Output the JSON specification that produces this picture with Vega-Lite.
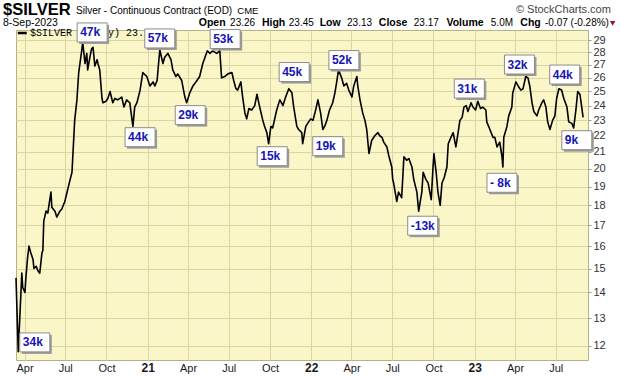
{
  "$schema": "https://vega.github.io/schema/vega-lite/v6.json",
  "autosize": "none",
  "padding": {"left": 16, "top": 30, "right": 32, "bottom": 16},
  "width": 572,
  "height": 330,
  "background": "white",
  "view": {"fill": "#FAF6C8", "stroke": "#B4B08A", "strokeWidth": 1},
  "datasets": {
    "prices": [
      {"date":"2020-03-13","price":14.6},{"date":"2020-03-18","price":11.8},{"date":"2020-03-26","price":14.8},{"date":"2020-03-28","price":14.2},
      {"date":"2020-04-02","price":14.0},{"date":"2020-04-04","price":14.6},{"date":"2020-04-08","price":15.5},{"date":"2020-04-11","price":16.0},
      {"date":"2020-04-15","price":15.7},{"date":"2020-04-20","price":15.4},{"date":"2020-04-22","price":15.0},{"date":"2020-04-27","price":15.1},
      {"date":"2020-05-01","price":14.9},{"date":"2020-05-05","price":14.8},{"date":"2020-05-10","price":15.7},{"date":"2020-05-12","price":15.8},
      {"date":"2020-05-14","price":17.2},{"date":"2020-05-19","price":17.7},{"date":"2020-05-23","price":17.6},{"date":"2020-05-30","price":18.7},
      {"date":"2020-06-01","price":17.9},{"date":"2020-06-08","price":17.7},{"date":"2020-06-12","price":17.4},{"date":"2020-06-19","price":17.7},
      {"date":"2020-06-23","price":17.8},{"date":"2020-06-30","price":18.2},{"date":"2020-07-04","price":18.6},{"date":"2020-07-11","price":19.3},
      {"date":"2020-07-16","price":19.8},{"date":"2020-07-22","price":23.0},{"date":"2020-07-27","price":24.4},{"date":"2020-07-31","price":26.4},
      {"date":"2020-08-07","price":28.2},{"date":"2020-08-09","price":28.8},{"date":"2020-08-14","price":27.1},{"date":"2020-08-18","price":27.9},
      {"date":"2020-08-20","price":26.6},{"date":"2020-08-25","price":27.6},{"date":"2020-08-29","price":28.3},{"date":"2020-09-01","price":28.4},
      {"date":"2020-09-05","price":26.9},{"date":"2020-09-10","price":27.4},{"date":"2020-09-12","price":27.1},{"date":"2020-09-16","price":26.6},
      {"date":"2020-09-21","price":24.5},{"date":"2020-09-23","price":24.2},{"date":"2020-09-30","price":24.3},{"date":"2020-10-04","price":24.5},
      {"date":"2020-10-09","price":25.0},{"date":"2020-10-15","price":24.2},{"date":"2020-10-20","price":24.5},{"date":"2020-10-26","price":24.4},
      {"date":"2020-11-04","price":24.6},{"date":"2020-11-09","price":23.9},{"date":"2020-11-15","price":24.4},{"date":"2020-11-22","price":24.2},
      {"date":"2020-11-29","price":22.6},{"date":"2020-12-03","price":23.9},{"date":"2020-12-08","price":24.2},{"date":"2020-12-15","price":25.1},
      {"date":"2020-12-21","price":26.4},{"date":"2020-12-30","price":26.1},{"date":"2021-01-06","price":25.4},{"date":"2021-01-13","price":25.7},
      {"date":"2021-01-17","price":25.4},{"date":"2021-01-22","price":25.8},{"date":"2021-01-28","price":28.2},{"date":"2021-02-04","price":27.1},
      {"date":"2021-02-08","price":27.6},{"date":"2021-02-15","price":27.9},{"date":"2021-02-22","price":27.4},{"date":"2021-02-26","price":26.6},
      {"date":"2021-03-05","price":26.1},{"date":"2021-03-09","price":26.3},{"date":"2021-03-18","price":25.8},{"date":"2021-03-25","price":24.6},
      {"date":"2021-03-29","price":24.2},{"date":"2021-04-05","price":24.9},{"date":"2021-04-12","price":25.4},{"date":"2021-04-21","price":25.8},
      {"date":"2021-04-27","price":26.1},{"date":"2021-05-04","price":27.1},{"date":"2021-05-14","price":28.1},{"date":"2021-05-20","price":27.9},
      {"date":"2021-05-26","price":28.1},{"date":"2021-06-04","price":27.9},{"date":"2021-06-11","price":28.1},{"date":"2021-06-15","price":26.0},
      {"date":"2021-06-22","price":26.1},{"date":"2021-06-29","price":26.3},{"date":"2021-07-08","price":26.4},{"date":"2021-07-12","price":25.8},
      {"date":"2021-07-17","price":25.2},{"date":"2021-07-21","price":25.1},{"date":"2021-07-28","price":25.7},{"date":"2021-08-01","price":24.6},
      {"date":"2021-08-06","price":23.5},{"date":"2021-08-10","price":23.1},{"date":"2021-08-15","price":23.8},{"date":"2021-08-21","price":23.7},
      {"date":"2021-08-28","price":24.0},{"date":"2021-09-02","price":24.8},{"date":"2021-09-08","price":23.9},{"date":"2021-09-15","price":23.0},
      {"date":"2021-09-19","price":22.6},{"date":"2021-09-24","price":22.2},{"date":"2021-09-28","price":21.5},{"date":"2021-10-03","price":22.6},
      {"date":"2021-10-07","price":22.5},{"date":"2021-10-16","price":23.7},{"date":"2021-10-23","price":24.4},{"date":"2021-10-30","price":24.0},
      {"date":"2021-11-05","price":24.6},{"date":"2021-11-12","price":25.2},{"date":"2021-11-19","price":24.9},{"date":"2021-11-23","price":23.9},
      {"date":"2021-11-30","price":22.6},{"date":"2021-12-04","price":22.4},{"date":"2021-12-11","price":22.2},{"date":"2021-12-13","price":21.5},
      {"date":"2021-12-20","price":22.6},{"date":"2021-12-24","price":22.8},{"date":"2021-12-31","price":23.1},{"date":"2022-01-05","price":23.0},
      {"date":"2022-01-11","price":23.7},{"date":"2022-01-16","price":24.4},{"date":"2022-01-22","price":23.5},{"date":"2022-01-27","price":22.4},
      {"date":"2022-01-31","price":22.6},{"date":"2022-02-05","price":23.0},{"date":"2022-02-11","price":23.7},{"date":"2022-02-18","price":24.2},
      {"date":"2022-02-23","price":24.9},{"date":"2022-02-27","price":25.7},{"date":"2022-03-03","price":26.6},{"date":"2022-03-10","price":26.0},
      {"date":"2022-03-15","price":25.4},{"date":"2022-03-21","price":25.6},{"date":"2022-03-26","price":25.1},{"date":"2022-04-02","price":24.6},
      {"date":"2022-04-06","price":25.4},{"date":"2022-04-13","price":26.1},{"date":"2022-04-15","price":25.4},{"date":"2022-04-20","price":24.4},
      {"date":"2022-04-26","price":23.5},{"date":"2022-05-01","price":23.0},{"date":"2022-05-05","price":22.4},{"date":"2022-05-10","price":20.9},
      {"date":"2022-05-16","price":21.7},{"date":"2022-05-23","price":22.0},{"date":"2022-05-30","price":22.2},{"date":"2022-06-03","price":22.0},
      {"date":"2022-06-08","price":21.9},{"date":"2022-06-12","price":21.6},{"date":"2022-06-19","price":21.3},{"date":"2022-06-23","price":20.8},
      {"date":"2022-06-30","price":20.1},{"date":"2022-07-02","price":19.4},{"date":"2022-07-04","price":19.2},{"date":"2022-07-11","price":18.2},
      {"date":"2022-07-15","price":18.7},{"date":"2022-07-22","price":18.4},{"date":"2022-07-27","price":20.7},{"date":"2022-08-02","price":20.5},
      {"date":"2022-08-07","price":20.6},{"date":"2022-08-14","price":20.1},{"date":"2022-08-18","price":19.4},{"date":"2022-08-25","price":18.7},
      {"date":"2022-08-29","price":17.7},{"date":"2022-09-05","price":18.7},{"date":"2022-09-08","price":19.8},{"date":"2022-09-14","price":19.4},
      {"date":"2022-09-19","price":19.2},{"date":"2022-09-26","price":18.3},{"date":"2022-09-30","price":20.1},{"date":"2022-10-02","price":20.9},
      {"date":"2022-10-07","price":19.8},{"date":"2022-10-11","price":18.7},{"date":"2022-10-16","price":18.0},{"date":"2022-10-20","price":19.2},
      {"date":"2022-10-25","price":19.5},{"date":"2022-10-31","price":20.1},{"date":"2022-11-03","price":21.5},{"date":"2022-11-09","price":21.9},
      {"date":"2022-11-14","price":22.2},{"date":"2022-11-20","price":21.3},{"date":"2022-11-25","price":22.2},{"date":"2022-11-29","price":23.0},
      {"date":"2022-12-04","price":23.2},{"date":"2022-12-08","price":23.9},{"date":"2022-12-13","price":24.0},{"date":"2022-12-17","price":23.6},
      {"date":"2022-12-24","price":24.2},{"date":"2022-12-28","price":23.9},{"date":"2023-01-03","price":23.7},{"date":"2023-01-08","price":24.3},
      {"date":"2023-01-14","price":23.8},{"date":"2023-01-19","price":23.9},{"date":"2023-01-26","price":23.7},{"date":"2023-01-28","price":22.9},
      {"date":"2023-02-04","price":22.4},{"date":"2023-02-11","price":21.9},{"date":"2023-02-15","price":21.9},{"date":"2023-02-20","price":21.3},
      {"date":"2023-02-26","price":21.6},{"date":"2023-03-03","price":20.7},{"date":"2023-03-05","price":20.1},{"date":"2023-03-07","price":21.9},
      {"date":"2023-03-14","price":22.6},{"date":"2023-03-18","price":23.3},{"date":"2023-03-25","price":23.9},{"date":"2023-03-27","price":24.9},
      {"date":"2023-04-03","price":25.7},{"date":"2023-04-08","price":25.4},{"date":"2023-04-14","price":25.1},{"date":"2023-04-19","price":25.2},
      {"date":"2023-04-25","price":26.1},{"date":"2023-04-30","price":26.0},{"date":"2023-05-04","price":25.4},{"date":"2023-05-09","price":24.2},
      {"date":"2023-05-13","price":23.6},{"date":"2023-05-20","price":23.3},{"date":"2023-05-24","price":23.7},{"date":"2023-05-31","price":24.2},
      {"date":"2023-06-04","price":24.4},{"date":"2023-06-09","price":23.9},{"date":"2023-06-13","price":22.9},{"date":"2023-06-18","price":22.4},
      {"date":"2023-06-24","price":23.0},{"date":"2023-06-29","price":23.3},{"date":"2023-07-03","price":24.5},{"date":"2023-07-08","price":25.2},
      {"date":"2023-07-14","price":25.1},{"date":"2023-07-19","price":24.5},{"date":"2023-07-26","price":23.9},{"date":"2023-07-30","price":22.9},
      {"date":"2023-08-06","price":22.8},{"date":"2023-08-10","price":22.5},{"date":"2023-08-15","price":23.7},{"date":"2023-08-19","price":25.0},
      {"date":"2023-08-24","price":24.8},{"date":"2023-08-28","price":23.9},{"date":"2023-08-31","price":23.2}
    ],
    "notes": [
      {"date":"2020-04-24","price":12.12,"label":"34k"},
      {"date":"2020-08-30","price":29.64,"label":"47k"},
      {"date":"2021-01-28","price":29.13,"label":"57k"},
      {"date":"2020-12-15","price":21.91,"label":"44k"},
      {"date":"2021-04-06","price":23.35,"label":"29k"},
      {"date":"2021-06-23","price":29.08,"label":"53k"},
      {"date":"2021-10-06","price":20.74,"label":"15k"},
      {"date":"2021-11-24","price":26.44,"label":"45k"},
      {"date":"2022-02-07","price":21.35,"label":"19k"},
      {"date":"2022-03-15","price":27.37,"label":"52k"},
      {"date":"2022-09-07","price":16.97,"label":"-13k"},
      {"date":"2022-12-20","price":25.21,"label":"31k"},
      {"date":"2023-03-03","price":19.21,"label":"- 8k"},
      {"date":"2023-04-11","price":27.02,"label":"32k"},
      {"date":"2023-07-21","price":26.25,"label":"44k"},
      {"date":"2023-08-17","price":21.72,"label":"9k"}
    ]
  },
  "encoding": {
    "x": {
      "field": "date", "type": "temporal",
      "scale": {"type": "utc", "domain": ["2020-03-13", "2023-09-11"]},
      "axis": {
        "title": null, "orient": "bottom", "domain": false, "ticks": false,
        "values": [
          {"year":2020,"month":"apr","date":1,"utc":true},{"year":2020,"month":"jul","date":1,"utc":true},{"year":2020,"month":"oct","date":1,"utc":true},
          {"year":2021,"month":"jan","date":1,"utc":true},{"year":2021,"month":"apr","date":1,"utc":true},{"year":2021,"month":"jul","date":1,"utc":true},{"year":2021,"month":"oct","date":1,"utc":true},
          {"year":2022,"month":"jan","date":1,"utc":true},{"year":2022,"month":"apr","date":1,"utc":true},{"year":2022,"month":"jul","date":1,"utc":true},{"year":2022,"month":"oct","date":1,"utc":true},
          {"year":2023,"month":"jan","date":1,"utc":true},{"year":2023,"month":"apr","date":1,"utc":true},{"year":2023,"month":"jul","date":1,"utc":true}
        ],
        "labelExpr": "utcmonth(datum.value) == 0 ? utcFormat(datum.value, '%y') : utcFormat(datum.value, '%b')",
        "labelFont": "Liberation Sans", "labelColor": "#1a1a1a", "labelPadding": 2,
        "labelFontSize": {"condition": {"test": "utcmonth(datum.value) == 0", "value": 12}, "value": 11},
        "labelFontWeight": {"condition": {"test": "utcmonth(datum.value) == 0", "value": "bold"}, "value": "normal"},
        "labelOverlap": false, "labelFlush": false,
        "grid": true, "gridColor": "#DAD6A4", "gridWidth": 1
      }
    },
    "y": {
      "field": "price", "type": "quantitative",
      "scale": {"type": "log", "domain": [11.52, 29.85], "nice": false, "zero": false},
      "axis": {
        "title": null, "orient": "right", "domain": false,
        "values": [12,13,14,15,16,17,18,19,20,21,22,23,24,25,26,27,28,29],
        "format": "d", "labelFont": "Liberation Sans", "labelFontSize": 11, "labelColor": "#333333",
        "ticks": true, "tickSize": 3, "tickColor": "#999999", "labelPadding": 2,
        "labelOverlap": false, "labelFlush": false,
        "grid": true, "gridColor": "#DAD6A4", "gridWidth": 1
      }
    }
  },
  "layer": [
    {
      "data": {"name": "prices"},
      "mark": {"type": "line", "color": "#000000", "strokeWidth": 1.6, "strokeJoin": "round"}
    },
    {
      "data": {"values": [{"date": "2020-03-17", "date2": "2020-04-06", "price": 29.59}]},
      "mark": {"type": "rule", "color": "#000000", "strokeWidth": 2.5, "clip": false},
      "encoding": {"x2": {"field": "date2"}}
    },
    {
      "data": {"values": [{"date": "2020-04-13", "price": 29.59, "label": "$SILVER (Daily) 23.17"}]},
      "mark": {"type": "text", "align": "left", "baseline": "middle", "font": "Liberation Mono", "fontSize": 10, "color": "#000000", "clip": false},
      "encoding": {"text": {"field": "label"}}
    },
    {
      "data": {"name": "notes"},
      "mark": {"type": "point", "shape": "M-1,-0.633L1,-0.633L1,0.633L-1,0.633Z", "size": 900, "filled": true, "fill": "#9A9A9A", "strokeWidth": 0, "opacity": 1, "xOffset": 2, "yOffset": 2, "clip": false}
    },
    {
      "data": {"name": "notes"},
      "mark": {"type": "point", "shape": "M-1,-0.633L1,-0.633L1,0.633L-1,0.633Z", "size": 900, "filled": true, "fill": "#FFFFFF", "stroke": "#8C8C8C", "strokeWidth": 1, "opacity": 1, "clip": false}
    },
    {
      "data": {"name": "notes"},
      "mark": {"type": "text", "align": "left", "baseline": "middle", "dx": -12, "font": "Liberation Sans", "fontSize": 12, "fontWeight": "bold", "color": "#1616B4", "clip": false},
      "encoding": {"text": {"field": "label"}}
    },
    {
      "data": {"values": [{"date": "2020-02-13", "price": 31.63, "label": "$SILVER"}]},
      "mark": {"type": "text", "align": "left", "baseline": "middle", "font": "Liberation Sans", "fontSize": 16.5, "fontWeight": "bold", "color": "#000000", "clip": false},
      "encoding": {"text": {"field": "label"}}
    },
    {
      "data": {"values": [{"date": "2020-07-25", "price": 31.55, "label": "Silver - Continuous Contract (EOD)"}]},
      "mark": {"type": "text", "align": "left", "baseline": "middle", "font": "Liberation Sans", "fontSize": 10, "color": "#000000", "clip": false},
      "encoding": {"text": {"field": "label"}}
    },
    {
      "data": {"values": [{"date": "2021-07-20", "price": 31.5, "label": "CME"}]},
      "mark": {"type": "text", "align": "left", "baseline": "middle", "font": "Liberation Sans", "fontSize": 9.5, "color": "#000000", "clip": false},
      "encoding": {"text": {"field": "label"}}
    },
    {
      "data": {"values": [{"date": "2023-11-01", "price": 31.6, "label": "© StockCharts.com"}]},
      "mark": {"type": "text", "align": "right", "baseline": "middle", "font": "Liberation Sans", "fontSize": 11, "color": "#444444", "clip": false},
      "encoding": {"text": {"field": "label"}}
    },
    {
      "data": {"values": [{"date": "2020-02-13", "price": 30.42, "label": "8-Sep-2023"}]},
      "mark": {"type": "text", "align": "left", "baseline": "middle", "font": "Liberation Sans", "fontSize": 10.5, "color": "#000000", "clip": false},
      "encoding": {"text": {"field": "label"}}
    },
    {
      "data": {"values": [
        {"date": "2021-04-25", "price": 30.42, "label": "Open"},
        {"date": "2021-09-13", "price": 30.42, "label": "High"},
        {"date": "2022-01-20", "price": 30.42, "label": "Low"},
        {"date": "2022-06-01", "price": 30.42, "label": "Close"},
        {"date": "2022-10-30", "price": 30.42, "label": "Volume"},
        {"date": "2023-04-13", "price": 30.42, "label": "Chg"}
      ]},
      "mark": {"type": "text", "align": "left", "baseline": "middle", "font": "Liberation Sans", "fontSize": 10.5, "fontWeight": "bold", "color": "#000000", "clip": false},
      "encoding": {"text": {"field": "label"}}
    },
    {
      "data": {"values": [
        {"date": "2021-07-04", "price": 30.42, "label": "23.26"},
        {"date": "2021-11-12", "price": 30.42, "label": "23.45"},
        {"date": "2022-03-22", "price": 30.42, "label": "23.13"},
        {"date": "2022-08-18", "price": 30.42, "label": "23.17"},
        {"date": "2023-02-06", "price": 30.42, "label": "5.0M"},
        {"date": "2023-06-07", "price": 30.42, "label": "-0.07 (-0.28%)"}
      ]},
      "mark": {"type": "text", "align": "left", "baseline": "middle", "font": "Liberation Sans", "fontSize": 10, "color": "#000000", "clip": false},
      "encoding": {"text": {"field": "label"}}
    },
    {
      "data": {"values": [{"date": "2023-11-05", "price": 30.42}]},
      "mark": {"type": "point", "shape": "triangle-down", "size": 30, "filled": true, "color": "#A0102A", "opacity": 1, "clip": false}
    }
  ]
}
